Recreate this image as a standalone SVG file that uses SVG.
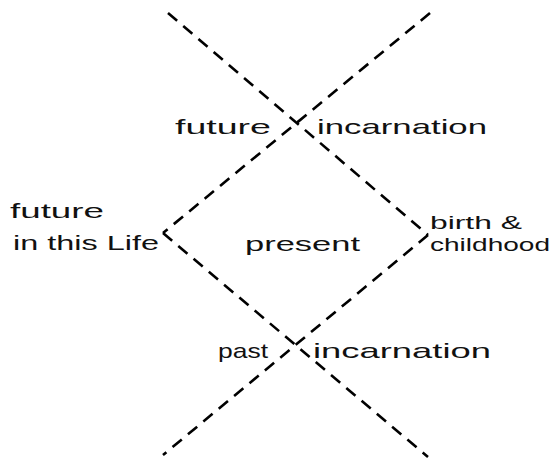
<svg xmlns="http://www.w3.org/2000/svg" width="555" height="462" viewBox="0 0 555 462">
<style>
.c{fill:none;stroke:#000;stroke-width:2.6;stroke-dasharray:12 8}
text{font-family:"Liberation Sans",Arial,sans-serif;font-size:21px;fill:#111}
.s{font-size:19px}
</style>
<rect width="555" height="462" fill="#fff"/>
<g id="connectors">
<path class="c" d="M168,13 L428,235"/>
<path class="c" d="M430,13 L163,233"/>
<path class="c" d="M428,235 L163,455"/>
<path class="c" d="M163,233 L428,457"/>
</g>
<g id="future-top"><text x="175" y="134" textLength="96" lengthAdjust="spacingAndGlyphs">future</text></g>
<g id="incarnation-top"><text x="317" y="134" textLength="170" lengthAdjust="spacingAndGlyphs">incarnation</text></g>
<g id="future-life"><text x="10" y="218" textLength="94" lengthAdjust="spacingAndGlyphs">future</text><text x="13" y="250" textLength="146" lengthAdjust="spacingAndGlyphs">in this Life</text></g>
<g id="present"><text x="245" y="251" textLength="115" lengthAdjust="spacingAndGlyphs">present</text></g>
<g id="birth"><text class="s" x="430" y="229" textLength="92" lengthAdjust="spacingAndGlyphs">birth &amp;</text><text class="s" x="430" y="251" textLength="120" lengthAdjust="spacingAndGlyphs">childhood</text></g>
<g id="past"><text x="218" y="358" textLength="50" lengthAdjust="spacingAndGlyphs">past</text></g>
<g id="incarnation-bottom"><text x="313" y="358" textLength="178" lengthAdjust="spacingAndGlyphs">incarnation</text></g>
</svg>
